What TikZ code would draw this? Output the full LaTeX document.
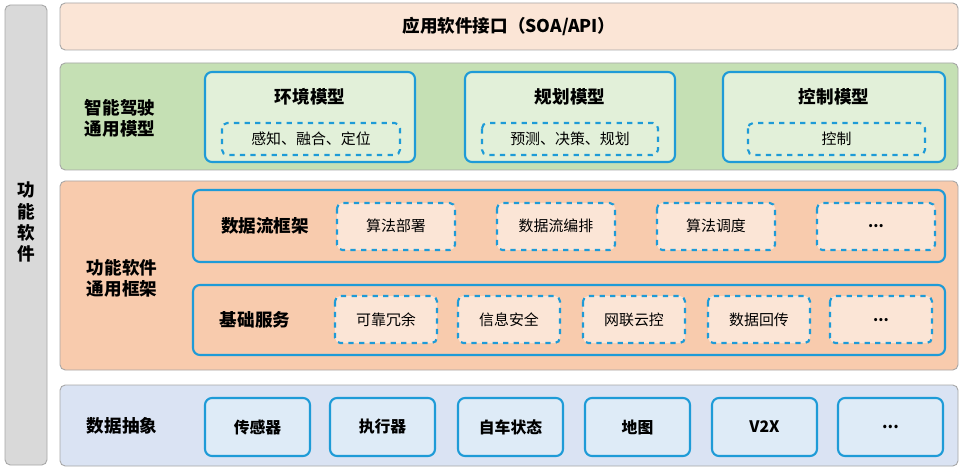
\documentclass[tikz,border=0pt]{standalone}
\usepackage{fontspec}
\setmainfont{Noto Sans CJK SC}
\usepackage{xcolor}
\usetikzlibrary{positioning}
\definecolor{bandgray}{HTML}{D9D9D9}
\definecolor{bandpink}{HTML}{FBE5D6}
\definecolor{bandgreen}{HTML}{C5E0B4}
\definecolor{boxgreen}{HTML}{E2F0D9}
\definecolor{bandorange}{HTML}{F8CBAD}
\definecolor{boxorange}{HTML}{FBE5D6}
\definecolor{bandblue}{HTML}{DAE3F3}
\definecolor{boxblue}{HTML}{DEEBF7}
\definecolor{edgeblue}{HTML}{1E9BD7}
\newcommand{\moredots}{\textbf{...}}
\tikzset{
  band/.style={draw=gray!70,line width=0.5pt,rounded corners=3pt},
  outerbox/.style={draw=edgeblue,line width=1.2pt,rounded corners=4pt},
  dashbox/.style={draw=edgeblue,line width=1.2pt,dashed,rounded corners=3pt},
  bigtxt/.style={font=\bfseries\fontsize{10}{12}\selectfont,align=center},
  smalltxt/.style={font=\fontsize{8.5}{10}\selectfont},
}
\begin{document}
\begin{tikzpicture}[x=0.02cm,y=-0.02cm]
\useasboundingbox (0,0) rectangle (962,469);
% vertical band
\draw[band,fill=bandgray] (5,5) rectangle (47,465);
\node[bigtxt] (side) at (26,222) {功\\能\\软\\件};
% top interface
\draw[band,fill=bandpink] (60,3) rectangle (958,50);
\node[bigtxt] (api) at (509,26) {应用软件接口（SOA/API）};
% models
\draw[band,fill=bandgreen] (60,63) rectangle (958,170);
\node[bigtxt] (model) at (120,118) {智能驾驶\\通用模型};
\foreach \xa/\xb/\ia/\ib/\head/\body in {205/415/222/400/环境模型/感知、融合、定位,
    465/675/482/658/规划模型/预测、决策、规划, 723/945/748/925/控制模型/控制}{
  \draw[outerbox,fill=boxgreen] (\xa,72) rectangle (\xb,162);
  \node[bigtxt] at ({(\xa+\xb)/2},97) {\head};
  \draw[dashbox,fill=boxgreen] (\ia,123) rectangle (\ib,155);
  \node[smalltxt] at ({(\ia+\ib)/2},139) {\body};
}
% framework
\draw[band,fill=bandorange] (60,181) rectangle (958,370);
\node[bigtxt] (frame) at (122,278) {功能软件\\通用框架};
\draw[outerbox,fill=bandorange] (193,190) rectangle (945,262);
\node[bigtxt] (flow) at (265,226) {数据流框架};
\foreach \xa/\txt in {337/算法部署,497/数据流编排,657/算法调度,817/\moredots}{
  \draw[dashbox,fill=boxorange] (\xa,203) rectangle ({\xa+118},250);
  \node[smalltxt] at ({\xa+59},226) {\txt};
}
\draw[outerbox,fill=bandorange] (193,285) rectangle (945,355);
\node[bigtxt] (base) at (255,320) {基础服务};
\foreach \xa/\txt in {335/可靠冗余,458/信息安全,583/网联云控,708/数据回传,830/\moredots}{
  \draw[dashbox,fill=boxorange] (\xa,296) rectangle ({\xa+102},343);
  \node[smalltxt] at ({\xa+51},320) {\txt};
}
% data abstraction
\draw[band,fill=bandblue] (60,385) rectangle (958,466);
\node[bigtxt] (data) at (122,426) {数据抽象};
\foreach \xa/\txt in {205/传感器,330/执行器,458/自车状态,585/地图,712/V2X,838/\moredots}{
  \draw[outerbox,fill=boxblue] (\xa,398) rectangle ({\xa+105},456);
  \node[bigtxt,font=\bfseries\fontsize{9}{11}\selectfont] at ({\xa+52.5},427) {\txt};
}
\end{tikzpicture}
\end{document}
